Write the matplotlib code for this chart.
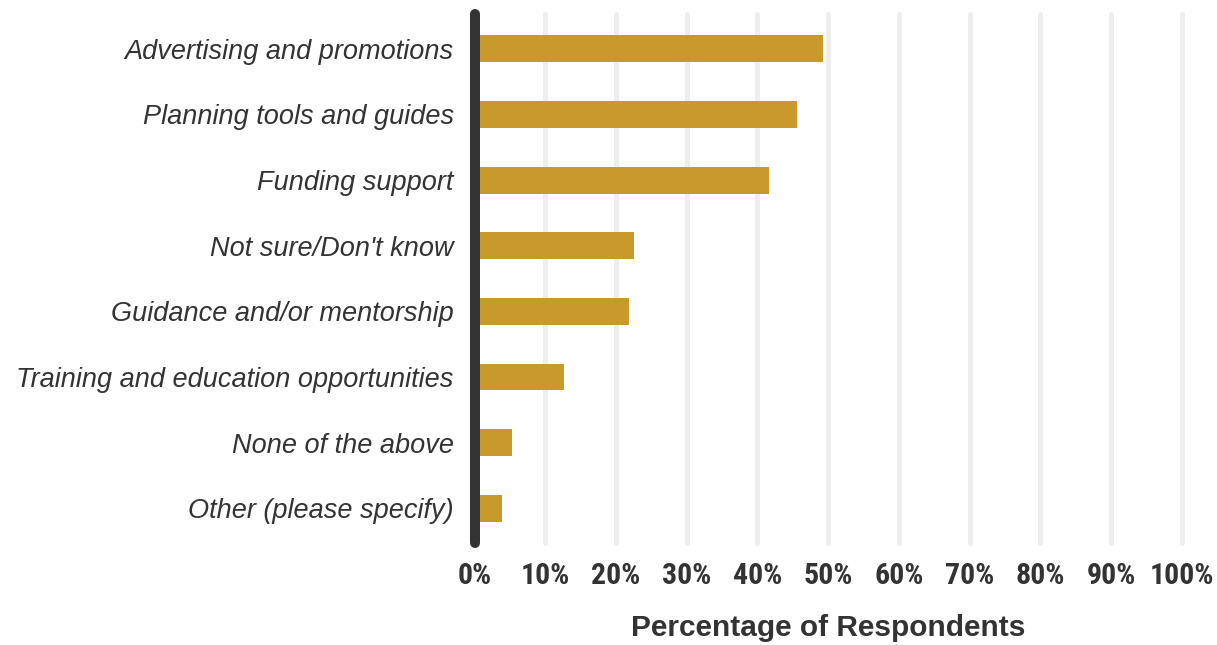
import matplotlib
matplotlib.use("Agg")
import matplotlib.pyplot as plt
from matplotlib.ticker import FuncFormatter

categories = [
    "Advertising and promotions",
    "Planning tools and guides",
    "Funding support",
    "Not sure/Don't know",
    "Guidance and/or mentorship",
    "Training and education opportunities",
    "None of the above",
    "Other (please specify)",
]
values = [49.2, 45.6, 41.6, 22.6, 21.8, 12.6, 5.3, 3.9]
x_ticks = [0, 10, 20, 30, 40, 50, 60, 70, 80, 90, 100]
x_label = "Percentage of Respondents"

BAR_COLOR = "#C9992C"
TEXT_COLOR = "#333333"
GRID_COLOR = "#EEEEEE"

fig = plt.figure(figsize=(12.17, 6.45), dpi=100)
ax = fig.add_axes([0.3899, 0.155, 0.5813, 0.8264])

y = list(range(len(categories)))
ax.barh(y, values, height=0.41, color=BAR_COLOR, zorder=2)

y_lo, y_hi = len(categories) - 0.44, -0.56
ax.set_xlim(0, 100)
ax.set_ylim(y_lo, y_hi)

for s in ax.spines.values():
    s.set_visible(False)

# light vertical gridlines
for t in x_ticks[1:]:
    ax.plot([t, t], [y_lo - 0.03, y_hi + 0.03], color=GRID_COLOR,
            lw=3.6, solid_capstyle="round", zorder=1, clip_on=False)

# heavy baseline at 0%
ax.plot([0, 0], [y_lo - 0.03, y_hi + 0.03], color=TEXT_COLOR,
        lw=7.2, solid_capstyle="round", zorder=3, clip_on=False)

ax.set_yticks(y)
ax.set_yticklabels(categories, fontsize=19.5, style="italic",
                   family="Liberation Sans", color=TEXT_COLOR)
ax.set_xticks(x_ticks)
ax.xaxis.set_major_formatter(FuncFormatter(lambda v, p: f"{int(v)}%"))
for lab in ax.get_xticklabels():
    lab.set_fontfamily(["Roboto Condensed", "Liberation Sans"])
    lab.set_fontweight("bold")
    lab.set_fontsize(21.5)
    lab.set_color(TEXT_COLOR)
ax.tick_params(axis="both", length=0)
ax.tick_params(axis="y", pad=15)
ax.tick_params(axis="x", pad=12)

ax.set_xlabel(x_label, fontsize=21.5, fontweight="bold",
              family="Liberation Sans", color=TEXT_COLOR, labelpad=17.5)

fig.savefig("out.png", dpi=100, facecolor="white")
